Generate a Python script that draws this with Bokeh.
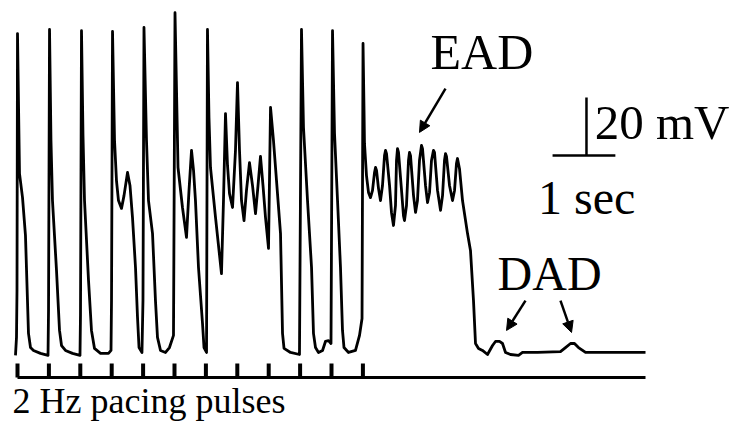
from bokeh.plotting import figure
from bokeh.models import Range1d, Label, Arrow, NormalHead
from bokeh.embed import file_html
from bokeh.resources import INLINE

# Membrane potential trace (time in s, voltage in mV)
time_s = [
    -0.032, -0.016, -0.008, 0.000, 0.032, 0.080, 0.127, 0.175, 0.207, 0.255, 0.366, 0.486, 0.494,
    0.510, 0.533, 0.557, 0.621, 0.669, 0.701, 0.764, 0.876, 0.995, 1.003,
    1.019, 1.043, 1.067, 1.131, 1.178, 1.226, 1.322, 1.449, 1.489, 1.497,
    1.513, 1.545, 1.576, 1.608, 1.656, 1.696, 1.752, 1.791, 1.831, 1.879, 1.911, 1.935, 1.982, 1.998,
    2.014, 2.054, 2.086, 2.150, 2.197, 2.229, 2.277, 2.357, 2.420, 2.484,
    2.508, 2.556, 2.627, 2.691, 2.731, 2.771, 2.803, 2.834, 2.882, 2.946, 2.970, 3.010,
    3.025, 3.049, 3.073, 3.153, 3.248, 3.280, 3.312, 3.344, 3.376, 3.424, 3.471, 3.503, 3.535,
    3.567, 3.607, 3.646, 3.694, 3.742, 3.790, 3.830, 3.869, 3.909, 3.949, 3.997, 4.029, 4.076,
    4.140, 4.188, 4.220, 4.244, 4.347, 4.490,
    4.522, 4.554, 4.618, 4.682, 4.713, 4.745, 4.793, 4.857, 4.904, 4.952, 4.992,
    5.016, 5.048, 5.096, 5.143, 5.175, 5.199, 5.271, 5.382, 5.446, 5.486,
    5.502, 5.518, 5.525, 5.557, 5.589, 5.621, 5.653, 5.685, 5.701, 5.717, 5.748, 5.780,
    5.812, 5.844, 5.860, 5.876, 5.924, 5.955, 5.987, 6.019, 6.035, 6.051, 6.067, 6.115,
    6.146, 6.162, 6.194, 6.226, 6.242, 6.258, 6.306, 6.338, 6.369, 6.401, 6.433, 6.449,
    6.497, 6.529, 6.561, 6.592, 6.624, 6.640, 6.688, 6.736, 6.768, 6.799, 6.815, 6.831,
    6.879, 6.927, 6.959, 6.990, 7.006, 7.038, 7.086, 7.166, 7.213, 7.261, 7.293, 7.341,
    7.404, 7.484, 7.564, 7.611, 7.675, 7.723, 7.771, 7.850, 7.978, 8.041, 8.280,
    8.646, 8.726, 8.806, 8.869, 8.933, 9.045, 9.331, 10.000,
]
voltage_mv = [
    -86.0, -79.8, -63.6, 25.0, -23.3, -31.6, -44.7, -78.4, -83.3, -84.3, -85.3, -86.0, -70.5,
    26.4, -11.9, -32.6, -56.7, -77.4, -82.6, -84.3, -85.3, -86.0, -72.2,
    26.0, -10.2, -32.6, -60.2, -77.4, -83.6, -85.3, -85.3, -84.3, -67.1,
    25.7, -11.9, -25.7, -32.6, -35.3, -30.9, -22.9, -27.4, -38.4, -55.7, -72.9, -83.3, -85.0, -67.1,
    27.1, -11.9, -32.6, -44.0, -67.1, -79.8, -84.3, -85.0, -83.3, -79.1,
    32.2, -21.2, -35.0, -45.3, -29.1, -15.3, -22.2, -32.6, -55.7, -75.0, -83.3, -85.0,
    26.4, -4.0, -21.2, -38.4, -57.8, -32.6, -2.6, -20.5, -30.2, -35.0, -15.3, 8.1, -15.3,
    -32.6, -39.5, -29.1, -19.5, -27.4, -37.1, -27.4, -17.4, -27.4, -38.4, -49.1, -0.5, -11.9,
    -30.2, -44.0, -78.4, -83.6, -85.0, -85.7,
    26.4, -7.4, -32.6, -55.7, -78.4, -83.3, -85.0, -84.3, -81.2, -80.9, -81.9,
    26.0, -9.5, -32.6, -55.7, -77.4, -83.3, -85.0, -84.3, -79.1, -73.3,
    21.6, -1.6, -12.9, -24.0, -29.8, -31.6, -29.1, -22.9, -21.2, -22.2, -28.4, -32.6,
    -27.4, -17.1, -15.3, -16.4, -27.4, -36.7, -41.2, -34.3, -18.8, -14.7, -16.0, -29.1,
    -37.8, -39.5, -34.3, -18.8, -16.0, -17.1, -30.9, -36.7, -32.6, -18.8, -13.6, -14.7,
    -27.4, -33.3, -29.8, -18.8, -15.3, -16.0, -29.1, -36.0, -30.9, -18.8, -16.4, -17.4,
    -27.4, -32.6, -29.1, -19.8, -18.1, -21.6, -32.6, -44.0, -49.8, -67.1, -81.9, -83.6,
    -84.3, -85.7, -82.6, -81.2, -81.2, -81.9, -85.0, -85.7, -86.0, -85.0, -85.0,
    -84.7, -83.3, -81.9, -81.9, -83.3, -85.0, -85.0, -85.0,
]

# 2 Hz pacing pulses (s) and stimulus channel (arbitrary units)
stim_times_s = [0.0, 0.5, 1.0, 1.5, 2.0, 2.5, 3.0, 3.5, 4.0, 4.5, 5.0, 5.5]
stim_amp = 1.0
stim_end_s = 10.0

# Scale bars
scale_mv = 20.0
scale_s = 1.0

p = figure(width=734, height=423,
           x_range=Range1d(-0.2707, 11.417), y_range=Range1d(-109.5, 36.4),
           output_backend="svg", toolbar_location=None,
           x_axis_location=None, y_axis_location=None, min_border=0)
p.extra_y_ranges = {"stim": Range1d(-3.286, 26.93)}
p.grid.visible = False
p.outline_line_color = None
p.background_fill_color = "white"
p.border_fill_color = "white"

# trace
p.line(time_s, voltage_mv, line_width=2.8, line_color="black", line_join="round")

# stimulus channel
p.line([stim_times_s[0], stim_end_s], [0, 0], y_range_name="stim",
       line_width=2.8, line_color="black")
p.segment(x0=stim_times_s, x1=stim_times_s, y0=[0] * len(stim_times_s),
          y1=[stim_amp] * len(stim_times_s), y_range_name="stim",
          line_width=4, line_color="black")

# scale bars
bar_x0, bar_y0, bar_xv = 8.52, -17.1, 9.06
p.segment(x0=[bar_xv, bar_x0], y0=[bar_y0, bar_y0],
          x1=[bar_xv, bar_x0 + scale_s], y1=[bar_y0 + scale_mv, bar_y0],
          line_width=2.5, line_color="black")

serif = "Liberation Serif"
def lab(x, y, txt, size):
    p.add_layout(Label(x=x, y=y, text=txt, text_font=serif, text_font_size=size,
                       text_color="black", text_baseline="alphabetic", text_align="left"))

lab(6.576, 18.8, "EAD", "50px")
lab(9.190, -5.6, "20 mV", "49px")
lab(8.290, -31.5, "1 sec", "48px")
lab(7.645, -57.8, "DAD", "48px")
lab(-0.080, -101.6, "2 Hz pacing pulses", "36px")

def arrow(x0, y0, x1, y1):
    p.add_layout(Arrow(end=NormalHead(size=11, fill_color="black", line_color="black", line_width=1),
                       x_start=x0, y_start=y0, x_end=x1, y_end=y1,
                       line_width=2.5, line_color="black"))

arrow(6.815, 6.0, 6.401, -9.1)
arrow(8.089, -67.1, 7.787, -77.4)
arrow(8.646, -67.1, 8.822, -78.1)

open("out.html", "w").write(file_html(p, INLINE))
